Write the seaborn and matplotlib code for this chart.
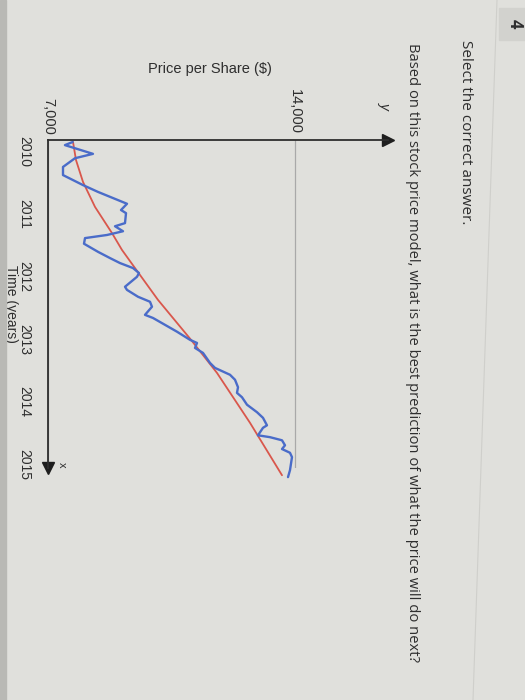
import numpy as np
import pandas as pd
import matplotlib
matplotlib.use("Agg")
import matplotlib.pyplot as plt
from matplotlib.lines import Line2D
from matplotlib.patches import Rectangle
import seaborn as sns

# --- data read off the (rotated) photo --------------------------------
# blue: actual price path, red: trend model
blue_time = [2010.00, 2010.05, 2010.19, 2010.26, 2010.40, 2010.53, 2010.69, 2010.80,
             2010.99, 2011.09, 2011.14, 2011.30, 2011.35, 2011.43, 2011.49, 2011.54,
             2011.63, 2011.76, 2011.86, 2011.94, 2012.02, 2012.10, 2012.16, 2012.32,
             2012.37, 2012.48, 2012.56, 2012.64, 2012.77, 2012.82, 2012.93, 2013.04,
             2013.17, 2013.22, 2013.30, 2013.38, 2013.54, 2013.62, 2013.73, 2013.81,
             2013.93, 2014.02, 2014.09, 2014.21, 2014.33, 2014.42, 2014.54, 2014.58,
             2014.70, 2014.73, 2014.78, 2014.86, 2014.92, 2014.98, 2015.05, 2015.26,
             2015.37]
blue_price = [7700, 7480, 8275, 7765, 7425, 7425, 7990, 8417,
              9239, 9069, 9211, 9182, 8899, 9126, 8672, 8049,
              8020, 8417, 8757, 9040, 9409, 9579, 9522, 9182,
              9239, 9551, 9891, 9947, 9749, 9976, 10316, 10656,
              11024, 11223, 11166, 11393, 11591, 11733, 12158, 12300,
              12385, 12356, 12498, 12640, 12923, 13093, 13206, 13093,
              12951, 13291, 13632, 13717, 13632, 13858, 13915, 13858,
              13802]

red_time = [2010.00, 2010.29, 2010.64, 2011.04, 2011.46, 2011.73,
            2012.02, 2012.53, 2013.17, 2013.70, 2014.50, 2015.34]
red_price = [7709, 7794, 7992, 8332, 8814, 9097,
             9466, 10117, 11053, 11789, 12725, 13632]

year_ticks = [2010, 2011, 2012, 2013, 2014, 2015]
price_ticks = [7000, 14000]
price_labels = ["7,000", "14,000"]

blue_df = pd.DataFrame({"time": blue_time, "price": blue_price})
red_df = pd.DataFrame({"time": red_time, "price": red_price})

# --- style --------------------------------------------------------------
sns.set_style("white")
plt.rcParams["font.family"] = ["Liberation Sans", "DejaVu Sans"]

bg = "#e0e0dc"
ink = "#2e2e2e"

fig = plt.figure(figsize=(5.25, 7), dpi=100, facecolor=bg)
W, H = 525, 700

# photo bits: darker left edge, question-number box, panel border
fig.patches.append(Rectangle((0, 0), 6 / W, 1, transform=fig.transFigure,
                             color="#b9b9b5", zorder=0))
fig.patches.append(Rectangle((499 / W, 1 - 40 / H), 26 / W, 32 / H,
                             transform=fig.transFigure, color="#d2d2ce", zorder=0))
fig.add_artist(Line2D([497 / W, 473 / W], [1, 0], color="#cfcfcb", lw=0.8))

# chart is shown turned 90 degrees: price runs left->right, time runs down
ax = fig.add_axes([48 / W, 1 - 468 / H, 340 / W, 328 / H])
ax.set_facecolor("none")

sns.lineplot(data=red_df, x="price", y="time", sort=False, orient="y",
             estimator=None, color="#d9574c", lw=1.3, ax=ax)
sns.lineplot(data=blue_df, x="price", y="time", sort=False, orient="y",
             estimator=None, color="#4a6cc9", lw=1.7, ax=ax)
for ln in ax.lines:
    ln.set_clip_on(False)

ax.set_xlim(7000, 16636)
ax.set_ylim(2015.224, 2009.968)

ax.xaxis.tick_top()
ax.set_xticks(price_ticks)
ax.set_xticklabels(price_labels, rotation=270, fontsize=10.5, color=ink)
ax.set_yticks(year_ticks)
ax.set_yticklabels([str(y) for y in year_ticks], rotation=270,
                   fontsize=10, color=ink)
ax.tick_params(axis="x", length=0, pad=4)
ax.tick_params(axis="y", length=0, pad=12)
ax.xaxis.grid(True, color="#a9a9a9", lw=0.9)
ax.set_xlabel("")
ax.set_ylabel("Time (years)", rotation=270, fontsize=10, color=ink,
              va="bottom", ha="center")
ax.yaxis.set_label_coords(-0.128, 0.5)

for side in ["right", "bottom"]:
    ax.spines[side].set_visible(False)
for side in ["top", "left"]:
    ax.spines[side].set_color(ink)
    ax.spines[side].set_linewidth(1.3)

# arrow heads on both axes
ax.plot([1], [1], marker=">", ms=8, color="#1e1e1e", transform=ax.transAxes,
        clip_on=False)
ax.plot([0], [0], marker="v", ms=8, color="#1e1e1e", transform=ax.transAxes,
        clip_on=False)

# axis letters and axis title
fig.text(385 / W, 1 - 105 / H, "y", rotation=270, fontsize=10, color=ink,
         ha="center", va="center", style="italic")
fig.text(62 / W, 1 - 465 / H, "x", rotation=270, fontsize=8, color=ink,
         ha="center", va="center")
fig.text(210 / W, 1 - 69 / H, "Price per Share ($)", fontsize=10.5,
         color=ink, ha="center", va="center")

# question text
qfont = ["Open Sans", "DejaVu Sans"]
fig.text(515 / W, 1 - 24 / H, "4", rotation=270, fontsize=12, weight="bold",
         color=ink, ha="center", va="center", family=qfont)
fig.text(465 / W, 1 - 40 / H, "Select the correct answer.", rotation=270,
         fontsize=11, color=ink, ha="center", va="top", family=qfont)
fig.text(412 / W, 1 - 43 / H,
         "Based on this stock price model, what is the best prediction of what the price will do next?",
         rotation=270, fontsize=10.6, color=ink, ha="center", va="top",
         family=qfont)

fig.savefig("out.png", dpi=100, facecolor=bg)
